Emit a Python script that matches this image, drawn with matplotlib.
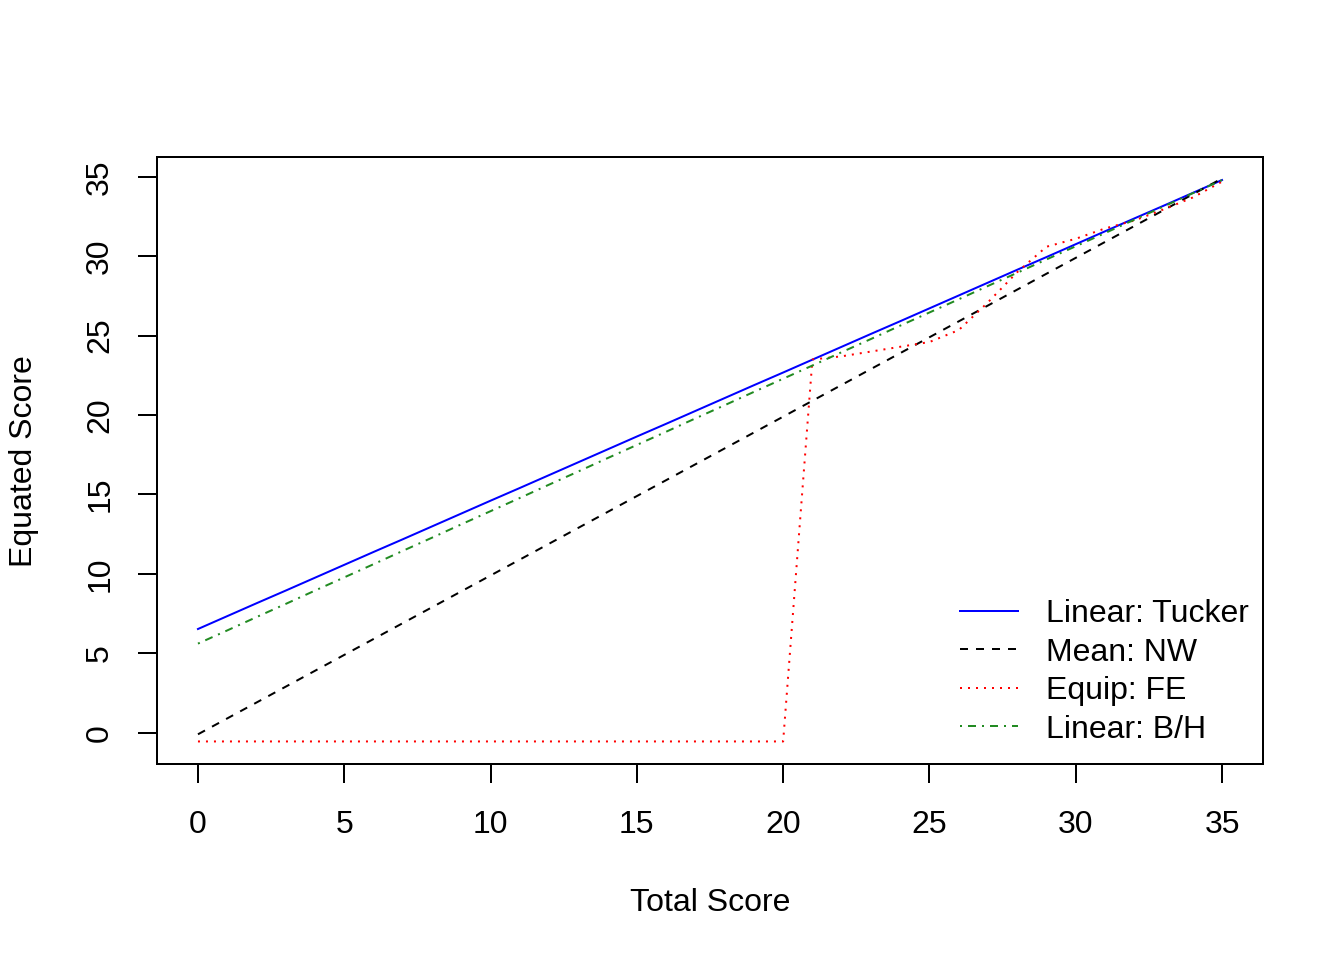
import matplotlib
matplotlib.use("Agg")
import matplotlib.pyplot as plt
from matplotlib.lines import Line2D

plt.rcParams['font.family'] = ['Liberation Sans', 'DejaVu Sans']

scores = list(range(0, 36))

tucker = [6.53, 7.34, 8.15, 8.95, 9.76, 10.57, 11.38, 12.18, 12.99, 13.80,
          14.61, 15.41, 16.22, 17.03, 17.84, 18.65, 19.45, 20.26, 21.07, 21.88,
          22.68, 23.49, 24.30, 25.11, 25.91, 26.72, 27.53, 28.34, 29.15, 29.95,
          30.76, 31.57, 32.38, 33.18, 33.99, 34.80]

mean_nw = [-0.10, 0.90, 1.90, 2.90, 3.90, 4.90, 5.90, 6.90, 7.90, 8.90,
           9.90, 10.90, 11.90, 12.90, 13.90, 14.90, 15.90, 16.90, 17.90, 18.90,
           19.90, 20.90, 21.90, 22.90, 23.90, 24.90, 25.90, 26.90, 27.90, 28.90,
           29.90, 30.90, 31.90, 32.90, 33.90, 34.90]

equip_fe = [-0.55, -0.55, -0.55, -0.55, -0.55, -0.55, -0.55, -0.55, -0.55, -0.55,
            -0.55, -0.55, -0.55, -0.55, -0.55, -0.55, -0.55, -0.55, -0.55, -0.55,
            -0.55, 23.50, 23.70, 24.00, 24.30, 24.60, 25.35, 27.10, 29.00, 30.60,
            31.10, 31.75, 32.25, 32.95, 33.70, 34.70]

linear_bh = [5.61, 6.44, 7.28, 8.11, 8.95, 9.78, 10.61, 11.45, 12.28, 13.12,
             13.95, 14.78, 15.62, 16.45, 17.29, 18.12, 18.95, 19.79, 20.62, 21.46,
             22.29, 23.12, 23.96, 24.79, 25.63, 26.46, 27.29, 28.13, 28.96, 29.80,
             30.63, 31.46, 32.30, 33.13, 33.97, 34.80]

legend_labels = ["Linear: Tucker", "Mean: NW", "Equip: FE", "Linear: B/H"]
x_ticks = [0, 5, 10, 15, 20, 25, 30, 35]
y_ticks = [0, 5, 10, 15, 20, 25, 30, 35]

W, H = 1344, 960
fig = plt.figure(figsize=(7, 5), dpi=192)
ax = fig.add_axes([157 / W, 1 - 764 / H, (1263 - 157) / W, (764 - 157) / H])

lw = 0.75
styles = [
    dict(color="blue", linestyle="-"),
    dict(color="black", linestyle=(0, (4, 4))),
    dict(color="red", linestyle=(0, (1, 3))),
    dict(color="#228B22", linestyle=(0, (1, 3, 4, 3))),
]
series = [tucker, mean_nw, equip_fe, linear_bh]
for ys, st in zip(series, styles):
    ax.plot(scores, ys, linewidth=lw, **st)

ax.set_xlim(-1.4, 36.4)
ax.set_ylim(-1.97, 36.25)
ax.set_xticks(x_ticks)
ax.set_yticks(y_ticks)
ax.set_xticklabels([str(t) for t in x_ticks], fontsize=12)
ax.set_yticklabels([str(t) for t in y_ticks], fontsize=12, rotation=90, va="center")
ax.tick_params(axis="both", direction="out", length=7.2, width=lw, color="black")
ax.tick_params(axis="x", pad=10.2)
ax.tick_params(axis="y", pad=8.5)
for s in ax.spines.values():
    s.set_linewidth(lw)
    s.set_color("black")

fig.text(710 / W, 1 - 911 / H, "Total Score", ha="center", va="baseline", fontsize=12)
fig.text(24 / W, 1 - 461 / H, "Equated Score", ha="center", va="center",
         fontsize=12, rotation=90)

# legend (no frame), drawn in figure pixel coordinates
for i, (lab, st) in enumerate(zip(legend_labels, styles)):
    yp = 611 + i * 38.4
    fig.add_artist(Line2D([960 / W, 1018 / W], [1 - yp / H, 1 - yp / H],
                          transform=fig.transFigure, linewidth=lw, **st))
    fig.text(1046 / W, 1 - (yp + 11.5) / H, lab, ha="left", va="baseline", fontsize=12)

fig.savefig("out.png", dpi=192, facecolor="white")
